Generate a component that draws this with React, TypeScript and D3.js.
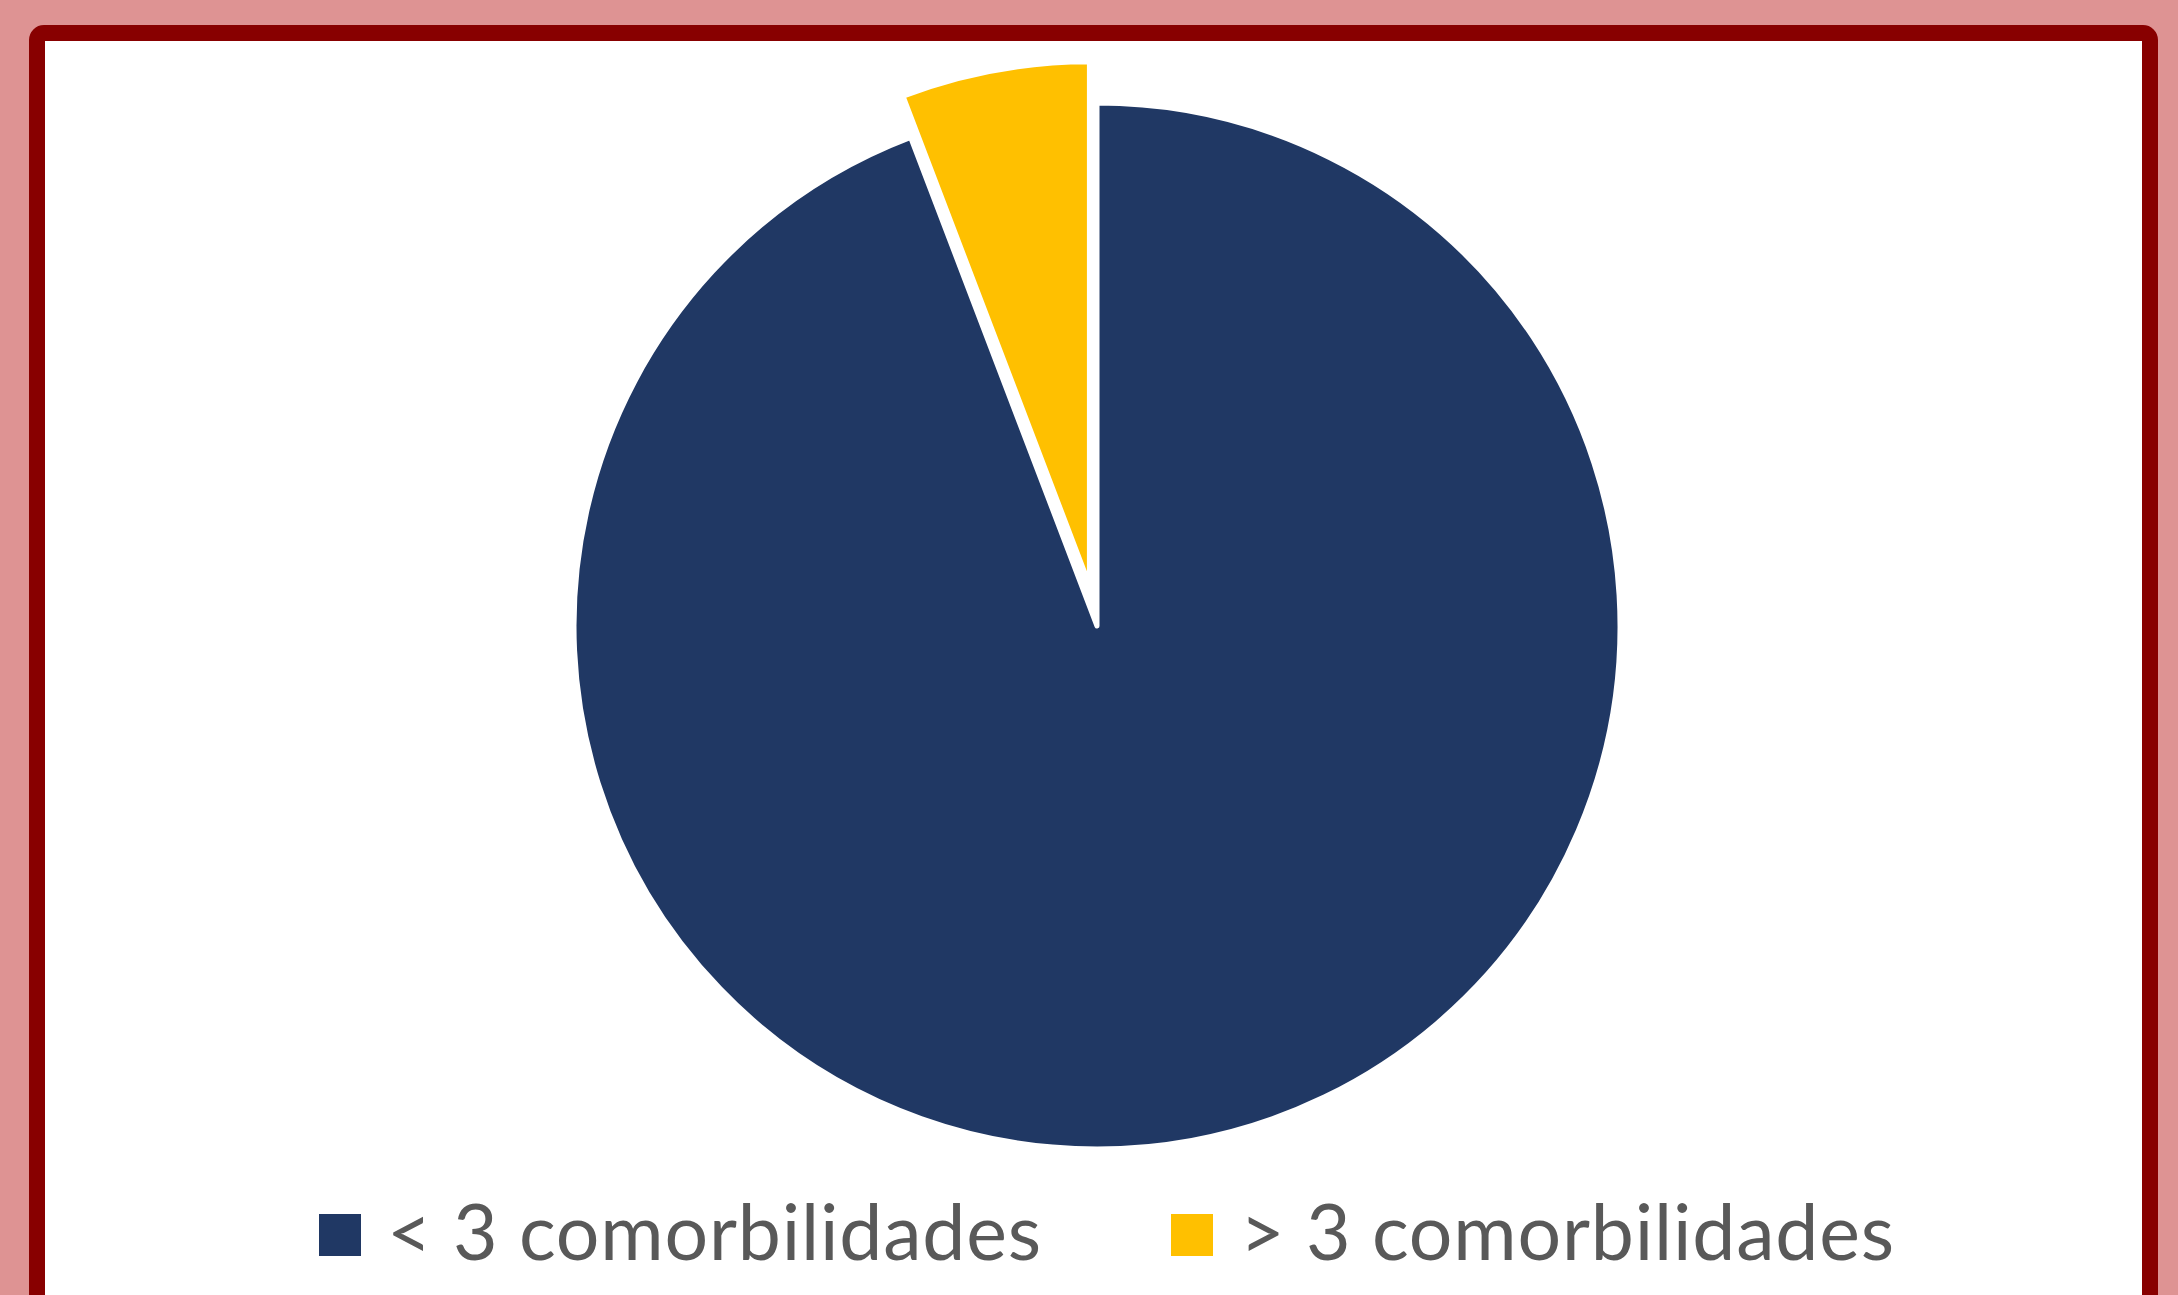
import React from "react";
import * as d3 from "d3";

const categories = ["< 3 comorbilidades", "> 3 comorbilidades"];
const values = [94.2, 5.8];
const colors = ["#203864", "#FFC000"];
const explode = [0, 0.08];

const W = 2178;
const H = 1295;

export default function App() {
  const cx = 1097;
  const cy = 626;
  const r = 523;
  const pie = d3.pie<number>().sort(null).value((d) => d)(values);
  const arc = d3.arc<d3.PieArcDatum<number>>().innerRadius(0).outerRadius(r);

  const legendX = [319, 1171];
  const legendTextX = [387, 1240];

  return (
    <svg
      width={W}
      height={H}
      style={{ position: "fixed", left: 0, top: 0, display: "block" }}
    >
      <rect x={0} y={0} width={W} height={H} fill="#DE9393" />
      <rect
        x={37}
        y={33}
        width={2113}
        height={1320}
        rx={7}
        fill="#FFFFFF"
        stroke="#880000"
        strokeWidth={16}
      />
      <g transform={`translate(${cx},${cy})`}>
        {pie.map((p, i) => {
          const mid = (p.startAngle + p.endAngle) / 2;
          const off = explode[i] * r;
          const dx = Math.sin(mid) * off;
          const dy = -Math.cos(mid) * off;
          return (
            <path
              key={i}
              d={arc(p) || ""}
              transform={`translate(${dx},${dy})`}
              fill={colors[i]}
              stroke="#FFFFFF"
              strokeWidth={5}
              strokeLinejoin="round"
            />
          );
        })}
      </g>
      {categories.map((c, i) => (
        <g key={c}>
          <rect x={legendX[i]} y={1214} width={42} height={42} fill={colors[i]} />
          <text
            x={legendTextX[i]}
            y={1260}
            fontFamily="Lato, 'Open Sans', sans-serif"
            fontSize={77}
            fill="#595959"
            textLength={654}
            lengthAdjust="spacing"
          >
            {c}
          </text>
        </g>
      ))}
    </svg>
  );
}
